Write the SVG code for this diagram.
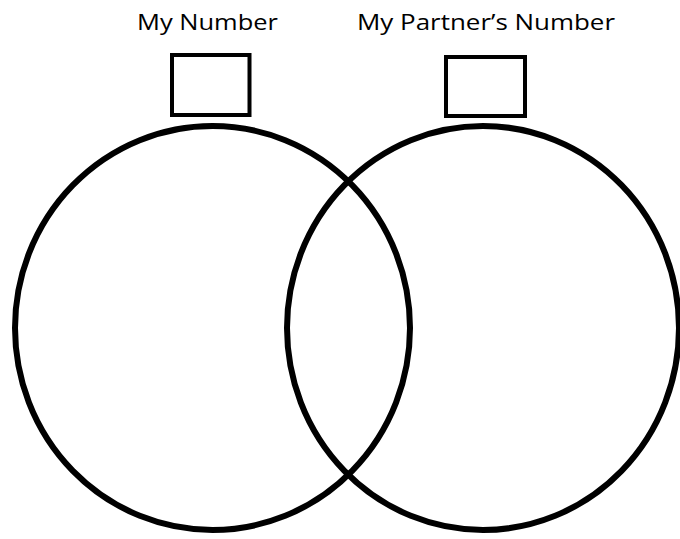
<svg xmlns="http://www.w3.org/2000/svg" width="680" height="539" viewBox="0 0 680 539">
<style>
.lbl{font-family:"Open Sans","Noto Sans","DejaVu Sans",sans-serif;font-size:21px;fill:#000}
.box{fill:none;stroke:#000;stroke-width:4}
.set{fill:none;stroke:#000;stroke-width:6}
</style>
<rect width="680" height="539" fill="#fff"/>
<g id="set-left">
<ellipse class="set" cx="212.5" cy="328" rx="197.5" ry="202"/>
</g>
<g id="set-right">
<ellipse class="set" cx="483" cy="328" rx="196" ry="202"/>
</g>
<g id="my-number">
<text class="lbl" x="207.5" y="29.5" text-anchor="middle" textLength="141" lengthAdjust="spacingAndGlyphs">My Number</text>
<rect class="box" x="172" y="55" width="77.5" height="60"/>
</g>
<g id="partner-number">
<text class="lbl" x="486" y="29.5" text-anchor="middle" textLength="258" lengthAdjust="spacingAndGlyphs">My Partner’s Number</text>
<rect class="box" x="446" y="57" width="79" height="59"/>
</g>
<g id="connectors"></g>
</svg>
